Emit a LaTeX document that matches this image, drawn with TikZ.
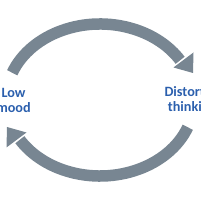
\documentclass[tikz,border=0pt]{standalone}
\usepackage{fontspec}
\setmainfont{Carlito}
\usetikzlibrary{calc}
\definecolor{arcgrey}{HTML}{788692}
\definecolor{txtblue}{HTML}{2B5FAD}
\begin{document}
\begin{tikzpicture}[x=1pt,y=1pt,
  shaft/.style={draw=arcgrey,line width=11.5pt,line cap=butt},
  head/.style={fill=arcgrey,draw=none},
  lbl/.style={text=txtblue,font=\fontsize{14.2}{15}\selectfont\bfseries,align=center,inner sep=0pt}]
\useasboundingbox (0,0) rectangle (200,200);
% centre of the cycle
\coordinate (c) at (100,100);
% top arc: from left end to arrow base
\draw[shaft] (c) ++(159:94 and 76) arc[start angle=159,end angle=31.5,x radius=94,y radius=76];
\fill[head] (193.5,147.5) -- (173.5,132.5) -- (193,127) -- cycle;
% bottom arc
\draw[shaft] (c) ++(-21:94 and 76) arc[start angle=-21,end angle=-148.5,x radius=94,y radius=76];
\fill[head] (6.5,52.5) -- (26.5,67.5) -- (7,73) -- cycle;
% labels
\node[lbl] (low) at (13.5,99.5) {Low\\mood};
\node[lbl] (dist) at (192,99.5) {Distorted\\thinking};
\end{tikzpicture}
\end{document}
